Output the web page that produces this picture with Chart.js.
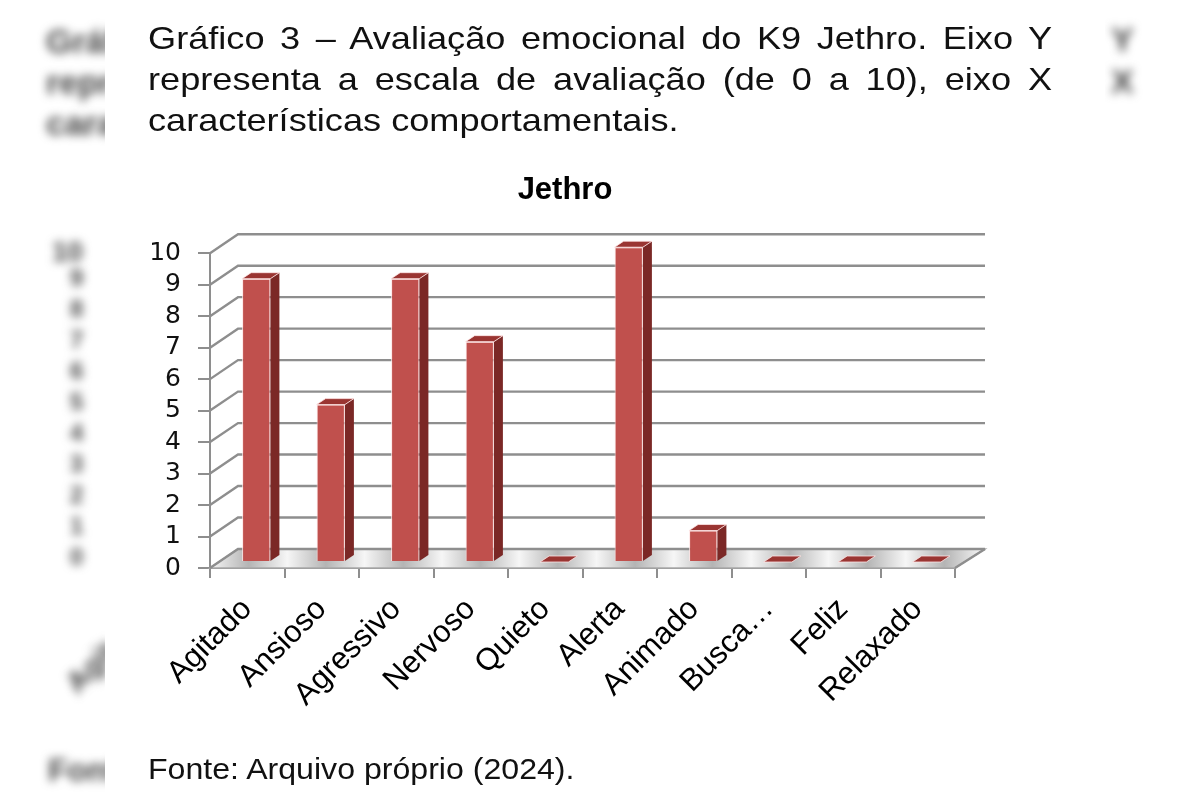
<!DOCTYPE html>
<html lang="pt">
<head>
<meta charset="utf-8">
<title>Gráfico 3 – Jethro</title>
<script src="https://cdn.jsdelivr.net/npm/chart.js@4"></script>
<style>
  html, body { margin: 0; padding: 0; background: #fff; }
  body { width: 1200px; height: 800px; position: relative; overflow: hidden; font-family: 'Liberation Sans', Arial, sans-serif; color: #111; }
  .legenda { position: absolute; left: 148px; top: 18px; width: 800px; transform: scaleX(1.13); transform-origin: left top; font-size: 32px; line-height: 41px; }
  .legenda div { text-align: justify; text-align-last: justify; white-space: nowrap; }
  .legenda div.ultima { text-align-last: left; }
  .fonte { position: absolute; left: 148px; top: 752px; font-size: 30px; line-height: 34px; transform: scaleX(1.07); transform-origin: left top; white-space: nowrap; }
  #grafico { position: absolute; left: 105px; top: 160px; }
  .lado { position: absolute; top: 0; height: 800px; overflow: hidden; }
  .lado span { position: absolute; filter: blur(5px); color: #444; font-weight: bold; white-space: nowrap; }
</style>
</head>
<body>

<div class="lado" style="left:0;width:105px">
  <span style="left:46px;top:22px;font-size:34px">Gráfico</span>
  <span style="left:46px;top:63px;font-size:34px">represe</span>
  <span style="left:46px;top:104px;font-size:34px">caracte</span>
  <span style="left:52px;top:236px;font-size:28px">10</span>
  <span style="left:70px;top:262px;font-size:24px;line-height:31px;white-space:normal;width:20px">9 8 7 6 5 4 3 2 1 0</span>
  <span style="left:62px;top:650px;font-size:30px;transform:rotate(-45deg)">Agit</span>
  <span style="left:48px;top:752px;font-size:32px">Fonte</span>
</div>
<div class="lado" style="left:1105px;width:95px">
  <span style="left:6px;top:20px;font-size:34px">Y</span>
  <span style="left:6px;top:62px;font-size:34px">X</span>
</div>

<div class="legenda">
  <div>Gráfico 3 – Avaliação emocional do K9 Jethro. Eixo Y</div>
  <div>representa a escala de avaliação (de 0 a 10), eixo X</div>
  <div class="ultima">características comportamentais.</div>
</div>

<canvas id="grafico" width="920" height="580"></canvas>

<div class="fonte">Fonte: Arquivo próprio (2024).</div>

<script>
// dados
const categorias = ['Agitado', 'Ansioso', 'Agressivo', 'Nervoso', 'Quieto', 'Alerta', 'Animado', 'Busca…', 'Feliz', 'Relaxado'];
const valores = [9, 5, 9, 7, 0, 10, 1, 0, 0, 0];
const tituloGrafico = 'Jethro';
const escalaMin = 0;
const escalaMax = 10;

// profundidade do "3D": parede do fundo e das barras
const PROF_X = 28, PROF_Y = -19;
const BARRA_X = 9, BARRA_Y = -6;
const corGrade = '#8e8e8e';

const efeito3d = {
    id: 'efeito3d',
    beforeDatasetsDraw(chart) {
        const ctx = chart.ctx;
        const area = chart.chartArea;
        const y = chart.scales.y;
        const y0 = y.getPixelForValue(escalaMin);

        // chão
        const grad = ctx.createLinearGradient(area.left, 0, area.right + PROF_X, 0);
        const n = categorias.length;
        for (let i = 0; i <= n; i++) {
            grad.addColorStop(i / n, '#f6f6f6');
            if (i < n) grad.addColorStop((i + 0.5) / n, '#b4b4b4');
        }
        ctx.save();
        ctx.beginPath();
        ctx.moveTo(area.left, y0);
        ctx.lineTo(area.right, y0);
        ctx.lineTo(area.right + PROF_X + 2, y0 + PROF_Y);
        ctx.lineTo(area.left + PROF_X, y0 + PROF_Y);
        ctx.closePath();
        ctx.fillStyle = grad;
        ctx.fill();
        ctx.strokeStyle = '#a8a8a8';
        ctx.lineWidth = 1.5;
        ctx.stroke();

        // parede lateral e parede do fundo
        ctx.strokeStyle = corGrade;
        ctx.lineWidth = 2.4;
        y.ticks.forEach(t => {
            const py = y.getPixelForValue(t.value);
            ctx.beginPath();
            ctx.moveTo(area.left, py);
            ctx.lineTo(area.left + PROF_X, py + PROF_Y);
            ctx.lineTo(area.right + PROF_X + 2, py + PROF_Y);
            ctx.stroke();
        });
        ctx.beginPath();
        ctx.moveTo(area.right, y0);
        ctx.lineTo(area.right + PROF_X + 2, y0 + PROF_Y);
        ctx.stroke();
        ctx.restore();

        // barras desenhadas no meio da profundidade
        ctx.save();
        ctx.translate(BARRA_X, BARRA_Y);
    },
    afterDatasetsDraw(chart) {
        const ctx = chart.ctx;
        ctx.restore();
        const meta = chart.getDatasetMeta(0);
        meta.data.forEach(bar => {
            const p = bar.getProps(['x', 'y', 'base', 'width'], true);
            const esq = p.x - p.width / 2 + BARRA_X;
            const dir = p.x + p.width / 2 + BARRA_X;
            const topo = p.y + BARRA_Y;
            const base = p.base + BARRA_Y;
            // lateral
            ctx.beginPath();
            ctx.moveTo(dir, topo);
            ctx.lineTo(dir + BARRA_X, topo + BARRA_Y);
            ctx.lineTo(dir + BARRA_X, base + BARRA_Y);
            ctx.lineTo(dir, base);
            ctx.closePath();
            ctx.fillStyle = '#7b2826';
            ctx.fill();
            // topo
            ctx.beginPath();
            ctx.moveTo(esq, topo);
            ctx.lineTo(esq + BARRA_X, topo + BARRA_Y);
            ctx.lineTo(dir + BARRA_X, topo + BARRA_Y);
            ctx.lineTo(dir, topo);
            ctx.closePath();
            ctx.fillStyle = '#9a3532';
            ctx.fill();
            ctx.strokeStyle = 'rgba(255,230,230,0.8)';
            ctx.lineWidth = 1;
            ctx.stroke();
        });
    }
};

const ctx = document.getElementById('grafico').getContext('2d');
new Chart(ctx, {
    type: 'bar',
    data: {
        labels: categorias,
        datasets: [{
            label: tituloGrafico,
            data: valores,
            backgroundColor: '#c0504d',
            borderColor: 'rgba(255,228,228,0.9)',
            borderWidth: 1,
            barPercentage: 0.38,
            categoryPercentage: 1,
            clip: false
        }]
    },
    options: {
        responsive: false,
        animation: false,
        layout: { padding: 0 },
        plugins: {
            legend: { display: false },
            tooltip: { enabled: false },
            title: {
                display: true,
                text: tituloGrafico,
                color: '#000',
                font: { family: 'Liberation Sans', size: 31, weight: 'bold' },
                padding: { top: 12, bottom: 44 }
            }
        },
        scales: {
            x: {
                grid: { drawOnChartArea: false, tickLength: 10, color: corGrade, lineWidth: 2 },
                border: { display: true, color: corGrade, width: 2 },
                ticks: {
                    minRotation: 45, maxRotation: 45, autoSkip: false, padding: 13,
                    color: '#000',
                    font: { family: 'Liberation Sans', size: 31 }
                },
                afterFit: s => { s.height = 172; }
            },
            y: {
                min: escalaMin,
                max: escalaMax,
                grid: { drawOnChartArea: false, tickLength: 12, color: corGrade, lineWidth: 2 },
                border: { display: true, color: corGrade, width: 2 },
                ticks: {
                    stepSize: 1, autoSkip: false, padding: 17,
                    color: '#111',
                    font: { family: 'DejaVu Sans', size: 25 }
                },
                afterFit: s => { s.width = 105; }
            },
            y2: {
                position: 'right',
                grid: { display: false },
                border: { display: false },
                ticks: { display: false },
                afterFit: s => { s.width = 70; }
            }
        }
    },
    plugins: [efeito3d]
});
</script>
</body>
</html>
